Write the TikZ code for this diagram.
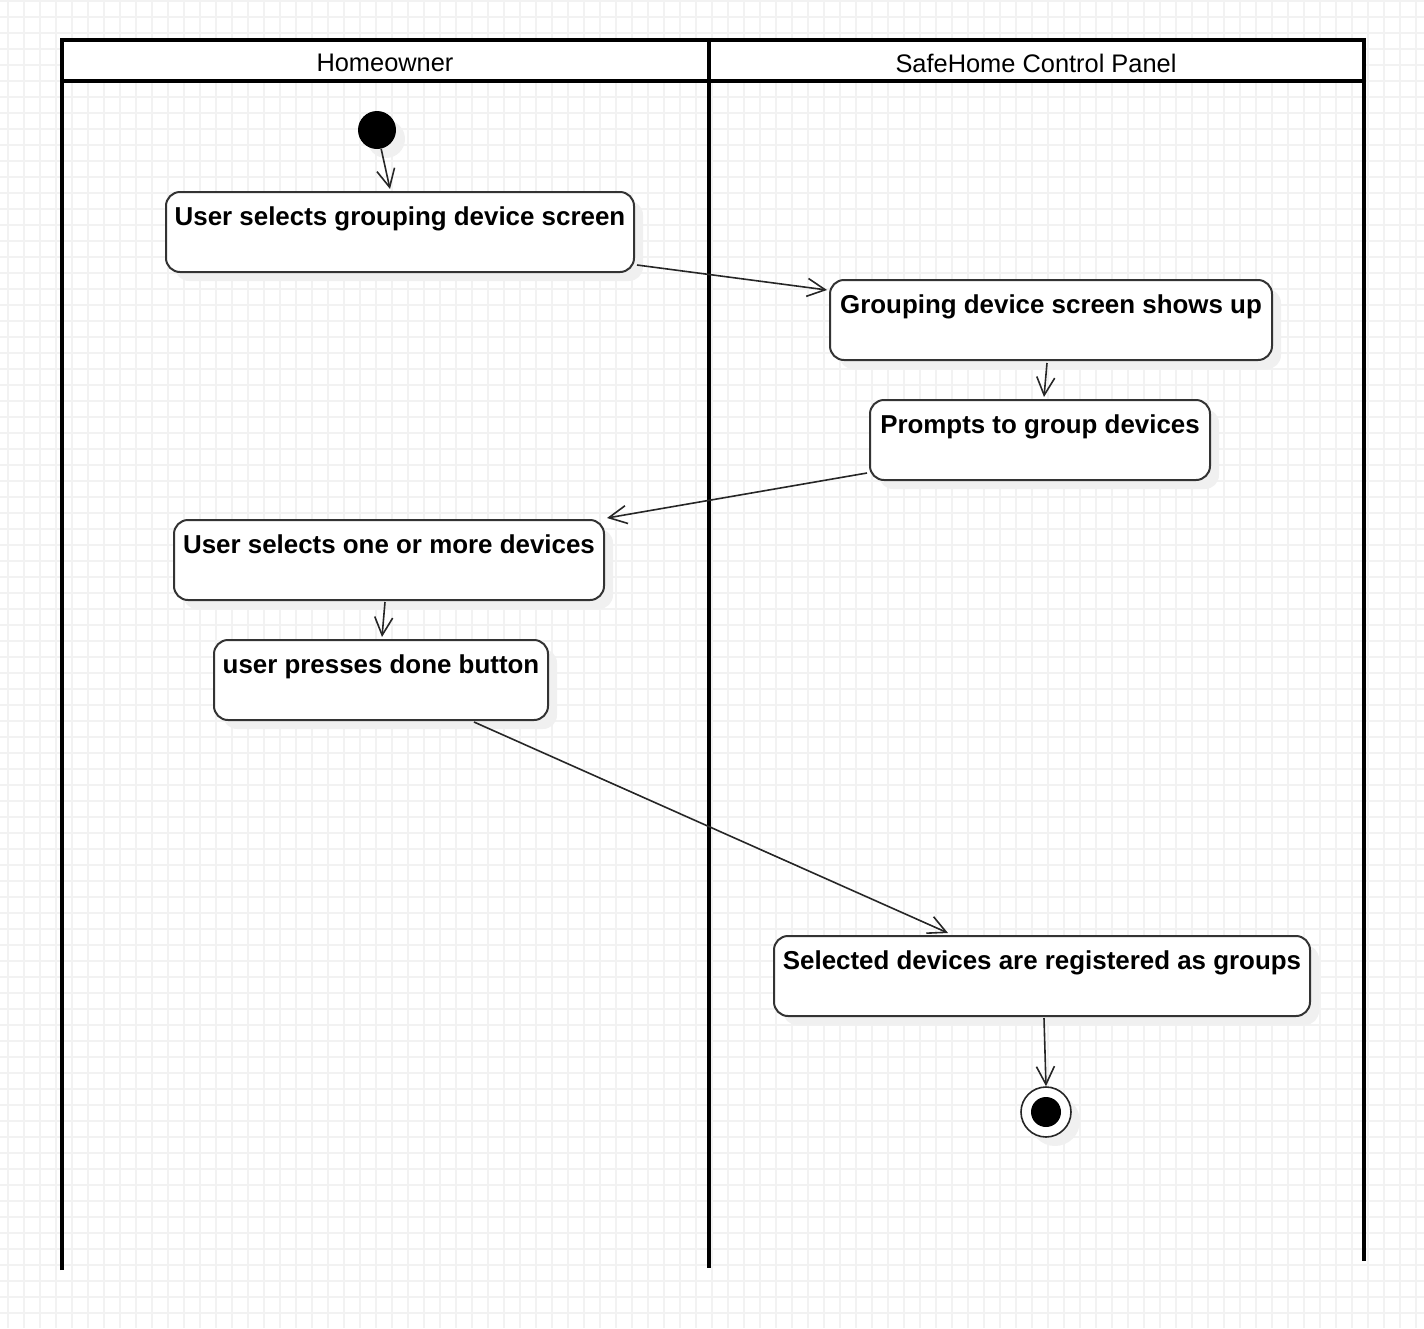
\documentclass[tikz,border=0pt]{standalone}
\usepackage{fontspec}
\setmainfont{Liberation Sans}
\usetikzlibrary{arrows.meta,shadows,calc}
\begin{document}
\begin{tikzpicture}[x=0.5pt,y=-0.5pt,
  gridline/.style={draw=black!5,line width=0.9pt},
  frame/.style={line width=1.8pt,draw=black},
  softshadow/.style={drop shadow={shadow xshift=4.5pt,shadow yshift=-4.5pt,fill=black!6,opacity=1}},
  act/.style={draw=black!80,line width=1pt,rounded corners=7pt,fill=white,
    minimum height=40pt,inner xsep=2pt,inner ysep=6.5pt,text height=10pt,text depth=17pt,
    font=\fontsize{12.95pt}{14pt}\selectfont\bfseries,softshadow},
  flow/.style={draw=black!85,line width=0.8pt,-{Straight Barb[length=9pt,width=9pt]}},
  lane/.style={font=\fontsize{12.7pt}{14pt}\selectfont}]
\useasboundingbox (0,0) rectangle (1424,1328);
% grid background
\foreach \x in {8,24,...,1416} \draw[gridline] (\x,0) -- (\x,1328);
\foreach \y in {1,17,...,1328} \draw[gridline] (0,\y) -- (1424,\y);
% swimlanes
\fill[white] (62,40) rectangle (1364,81);
\draw[frame] (62,1270) -- (62,40) -- (1364,40) -- (1364,1261);
\draw[frame] (62,81) -- (1364,81);
\draw[frame] (709,40) -- (709,1268);
\node[lane] (h1) at (385,63) {Homeowner};
\node[lane] (h2) at (1036,63) {SafeHome Control Panel};
% start / end
\node[circle,fill=black,minimum size=19pt,inner sep=0pt,softshadow] (start) at (377,130) {};
\node[circle,draw=black!85,line width=0.8pt,fill=white,minimum size=25pt,inner sep=0pt,softshadow] (end) at (1046,1112) {};
\node[circle,fill=black,minimum size=15pt,inner sep=0pt] (endin) at (1046,1112) {};
% activities
\node[act,minimum width=234pt] (n1) at (400,232) {User selects grouping device screen};
\node[act,minimum width=221pt] (n2) at (1051,320) {Grouping device screen shows up};
\node[act,minimum width=170pt] (n3) at (1040,440) {Prompts to group devices};
\node[act,minimum width=215pt] (n4) at (389,560) {User selects one or more devices};
\node[act,minimum width=167pt] (n5) at (381,680) {user presses done button};
\node[act,minimum width=268pt] (n6) at (1042,976) {Selected devices are registered as groups};
% flows
\draw[flow] (start) -- ($(n1.north)+(-10,-2)$);
\draw[flow] ($(n1.south east)+(2,-8)$) -- ($(n2.north west)+(-2,11)$);
\draw[flow] ($(n2.south)+(-4,2)$) -- ($(n3.north)+(4,-2)$);
\draw[flow] ($(n3.south west)+(-2,-8)$) -- ($(n4.north east)+(2,-1)$);
\draw[flow] ($(n4.south)+(-4,1)$) -- ($(n5.north)+(1,-2)$);
\draw[flow] ($(n5.south)+(93,1)$) -- ($(n6.north)+(-94,-2)$);
\draw[flow] ($(n6.south)+(2,1)$) -- (end.north);
\end{tikzpicture}
\end{document}
